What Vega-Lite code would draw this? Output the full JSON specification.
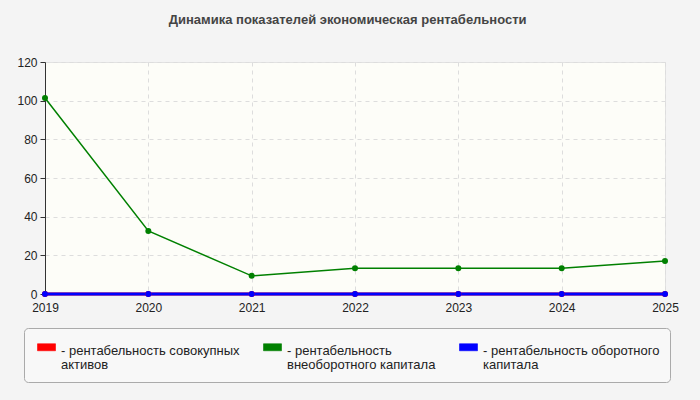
{
  "$schema": "https://vega.github.io/schema/vega-lite/v6.json",
  "autosize": "none",
  "width": 620,
  "height": 232,
  "padding": {"left": 45, "top": 62, "right": 35, "bottom": 106},
  "background": "#f4f4f4",
  "title": {
    "text": "Динамика показателей экономическая рентабельности",
    "font": "Liberation Sans",
    "fontSize": 13,
    "fontWeight": "bold",
    "color": "#444444",
    "anchor": "middle",
    "frame": "bounds",
    "offset": 29
  },
  "config": {
    "view": {"fill": "#fdfdf8", "stroke": "#e2e2e2"},
    "style": {"guide-label": {"lineHeight": 14}},
    "axis": {
      "labelFont": "Liberation Sans",
      "labelFontSize": 12,
      "labelColor": "#222222",
      "gridDash": [4, 4],
      "gridColor": "#dddddd",
      "domainColor": "#333333",
      "tickColor": "#333333",
      "title": null
    }
  },
  "data": {
    "values": [
      {"year": "2019", "series": "совокупных", "value": 0},
      {"year": "2020", "series": "совокупных", "value": 0},
      {"year": "2021", "series": "совокупных", "value": 0},
      {"year": "2022", "series": "совокупных", "value": 0},
      {"year": "2023", "series": "совокупных", "value": 0},
      {"year": "2024", "series": "совокупных", "value": 0},
      {"year": "2025", "series": "совокупных", "value": 0},
      {"year": "2019", "series": "внеоборотного", "value": 101.4},
      {"year": "2020", "series": "внеоборотного", "value": 32.6},
      {"year": "2021", "series": "внеоборотного", "value": 9.4},
      {"year": "2022", "series": "внеоборотного", "value": 13.3},
      {"year": "2023", "series": "внеоборотного", "value": 13.3},
      {"year": "2024", "series": "внеоборотного", "value": 13.3},
      {"year": "2025", "series": "внеоборотного", "value": 17.1},
      {"year": "2019", "series": "оборотного", "value": 0},
      {"year": "2020", "series": "оборотного", "value": 0},
      {"year": "2021", "series": "оборотного", "value": 0},
      {"year": "2022", "series": "оборотного", "value": 0},
      {"year": "2023", "series": "оборотного", "value": 0},
      {"year": "2024", "series": "оборотного", "value": 0},
      {"year": "2025", "series": "оборотного", "value": 0}
    ]
  },
  "encoding": {
    "x": {
      "field": "year",
      "type": "ordinal",
      "scale": {"type": "point", "padding": 0},
      "axis": {"labelAngle": 0, "grid": true, "domain": false, "ticks": false, "labelPadding": 8}
    },
    "y": {
      "field": "value",
      "type": "quantitative",
      "scale": {"domain": [0, 120], "nice": false},
      "axis": {"values": [0, 20, 40, 60, 80, 100, 120], "tickSize": 5, "labelPadding": 3, "grid": true}
    },
    "color": {
      "field": "series",
      "type": "nominal",
      "sort": ["совокупных", "внеоборотного", "оборотного"],
      "scale": {
        "domain": ["совокупных", "внеоборотного", "оборотного"],
        "range": ["#ff0000", "#008000", "#0000ff"]
      },
      "legend": {
        "title": null,
        "orient": "none",
        "legendX": -21,
        "legendY": 266,
        "direction": "horizontal",
        "columns": 3,
        "columnPadding": 20,
        "padding": 10,
        "strokeColor": "#aaaaaa",
        "fillColor": "#f8f8f8",
        "cornerRadius": 4,
        "labelFont": "Liberation Sans",
        "labelFontSize": 13,
        "labelColor": "#222222",
        "labelBaseline": "top",
        "labelOffset": 14,
        "labelLimit": 300,
        "labelExpr": "datum.label == 'совокупных' ? ['- рентабельность совокупных', 'активов'] : datum.label == 'внеоборотного' ? ['- рентабельность', 'внеоборотного капитала'] : ['- рентабельность оборотного', 'капитала']",
        "symbolType": "M-1.5,-0.5 L7.5,-0.5 L7.5,3 L-1.5,3 Z",
        "symbolSize": 16,
        "symbolStrokeColor": "#666666",
        "symbolStrokeWidth": 0.6,
        "symbolOffset": 0
      }
    }
  },
  "layer": [
    {
      "mark": {"type": "line"},
      "encoding": {
        "strokeWidth": {
          "condition": {"test": "datum.series == 'внеоборотного'", "value": 1.5},
          "value": 3
        }
      }
    },
    {
      "mark": {"type": "point", "filled": true, "size": 36, "opacity": 1}
    }
  ]
}
